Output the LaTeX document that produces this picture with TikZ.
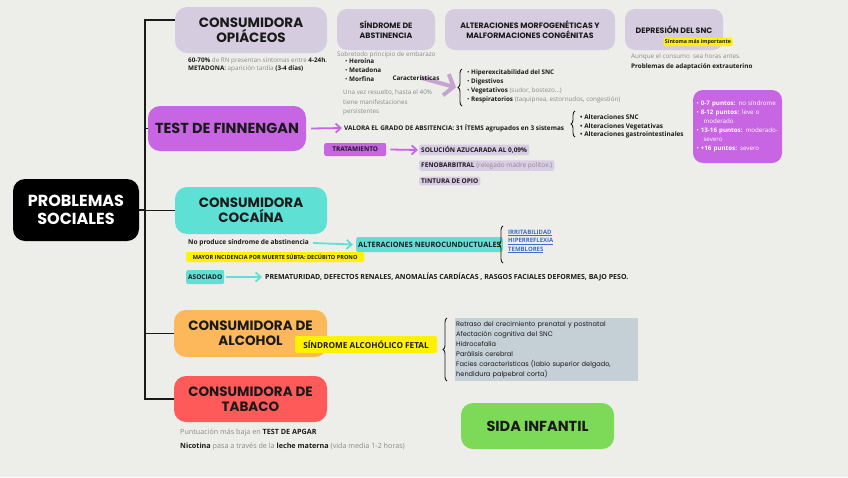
\documentclass[tikz,border=0pt]{standalone}
\usepackage{fontspec}
\setmainfont{Open Sans}
\newfontfamily\headfont{Poppins}
\usetikzlibrary{arrows.meta,positioning,decorations.pathreplacing,calc}
\definecolor{paper}{HTML}{EDEDEA}
\definecolor{opi}{HTML}{D6CCE0}
\definecolor{tagl}{HTML}{D9CDE4}
\definecolor{fin}{HTML}{C765E3}
\definecolor{coc}{HTML}{5EE0D5}
\definecolor{alc}{HTML}{FDB85C}
\definecolor{tab}{HTML}{FF5A5A}
\definecolor{sida}{HTML}{7DDA58}
\definecolor{hl}{HTML}{FFF200}
\definecolor{alist}{HTML}{C5CFD6}
\definecolor{linkblue}{HTML}{3C6BC9}
\definecolor{greytxt}{HTML}{8A8A8A}
\definecolor{ink}{HTML}{1A1A1A}
\pgfdeclarelayer{paperlayer}
\pgfdeclarelayer{under}
\pgfsetlayers{paperlayer,under,main}
\newcommand{\gry}[1]{{\color{greytxt}#1}}
\tikzset{
  bigbox/.style={rounded corners=12pt, align=center, text=ink,
    font=\headfont\bfseries\fontsize{13.5}{15}\selectfont, inner sep=2pt},
  smallbox/.style={rounded corners=10pt, fill=opi, align=center, text=ink,
    font=\headfont\bfseries\fontsize{7.8}{10.5}\selectfont, minimum height=41pt},
  tagbox/.style={rounded corners=2pt, inner sep=2pt, text=ink,
    font=\bfseries\fontsize{6.5}{7.5}\selectfont, anchor=west},
  note/.style={inner sep=0pt, align=left, text=ink, font=\fontsize{6.3}{9}\selectfont},
  trunk/.style={line width=1.6pt, ink},
  curly/.style={decorate, decoration={brace, amplitude=4pt}, line width=0.9pt, ink},
  barb/.style={-{Straight Barb[length=5pt,width=9pt]}, line width=1.8pt},
}
\begin{document}
\begin{tikzpicture}[x=1pt,y=-1pt]
\useasboundingbox (0,0) rectangle (848,477);
\begin{pgfonlayer}{paperlayer}
  \fill[paper] (0,0) rectangle (848,477);
\end{pgfonlayer}

% root and main branches
\node[bigbox, fill=black, text=white, minimum width=126pt, minimum height=62pt,
  font=\headfont\bfseries\fontsize{16}{18.5}\selectfont] (root) at (76,210) {PROBLEMAS\\SOCIALES};
\node[bigbox, fill=opi, minimum width=152pt, minimum height=46pt] (opi) at (251,30) {CONSUMIDORA\\OPIÁCEOS};
\node[bigbox, fill=fin, minimum width=158pt, minimum height=45pt,
  font=\headfont\bfseries\fontsize{14.5}{16}\selectfont] (fin) at (227,128.5) {TEST DE FINNENGAN};
\node[bigbox, fill=coc, minimum width=152pt, minimum height=47pt] (coc) at (251,210.5) {CONSUMIDORA\\COCAÍNA};
\node[bigbox, fill=alc, minimum width=153pt, minimum height=47pt] (alc) at (250.5,333.5) {CONSUMIDORA DE\\ALCOHOL};
\node[bigbox, fill=tab, minimum width=153pt, minimum height=46pt] (tab) at (250.5,399) {CONSUMIDORA DE\\TABACO};
\node[bigbox, fill=sida, minimum width=153pt, minimum height=46pt,
  font=\headfont\bfseries\fontsize{14.5}{16}\selectfont] (sida) at (537.5,426) {SIDA INFANTIL};

% trunk
\draw[trunk] ([yshift=10pt]opi.west) -- ++(-30,0) coordinate (ttop) |- (tab.west);
\draw[trunk] (root.east) -- (root.east -| ttop);
\draw[trunk] (fin.west -| ttop) -- (fin.west);
\draw[trunk] (coc.west -| ttop) -- (coc.west);
\draw[trunk] (alc.west -| ttop) -- (alc.west);

% opiaceos
\node[note, anchor=north west] (rn) at (188,57.5)
  {\textbf{60-70\%} \gry{de RN presentan síntomas entre} \textbf{4-24h}.\\[-1pt]
   \textbf{METADONA}: \gry{aparición tardía} \textbf{(3-4 días)}};
\node[smallbox, minimum width=98pt] (abst) at (386,29.5) {SÍNDROME DE\\ABSTINENCIA};
\node[smallbox, minimum width=170pt] (morf) at (530,29.5) {ALTERACIONES MORFOGENÉTICAS Y\\MALFORMACIONES CONGÉNITAS};
\node[smallbox, minimum width=98pt] (dep) at (674,29.5) {DEPRESIÓN DEL SNC};
\node[tagbox, anchor=center, fill=hl, inner sep=1.5pt, font=\bfseries\fontsize{5.3}{6}\selectfont] (sint) at (698,42) {Síntoma más importante};
\node[note, anchor=north west] (aunque) at (631,54)
  {\gry{Aunque el consumo\ \ sea horas antes.}\\[1pt]\textbf{Problemas de adaptación extrauterino}};

\node[note, anchor=west] (sobre) at (337,55) {\gry{Sobretodo principio de embarazo}};
\node[note, anchor=north west] (drugs) at (345,58) {•\ \textbf{Heroína}\\•\ \textbf{Metadona}\\•\ \textbf{Morfina}};
\node[note, anchor=north west] (persist) at (343,90)
  {\gry{Una vez resuelto, hasta el 40\%}\\[0.5pt]\gry{tiene manifestaciones}\\[0.5pt]\gry{persistentes}};
\node[note, font=\bfseries\fontsize{6.3}{8}\selectfont] (caract) at (416,78) {Características};
\coordinate (b1top) at (462,69);
\coordinate (b1bot) at (462,106);
\draw[curly] (b1bot) -- (b1top);
\begin{pgfonlayer}{under}
  \draw[tagl!80!violet, line width=4pt, -{Straight Barb[length=8pt,width=22pt]}]
    ([xshift=-18pt]caract.east) -- ([xshift=-6pt]$(b1top)!0.5!(b1bot)$);
\end{pgfonlayer}
\node[note, anchor=north west] (sint1) at (467,69.5)
  {•\ \textbf{Hiperexcitabilidad del SNC}\\
   •\ \textbf{Digestivos}\\
   •\ \textbf{Vegetativos} \gry{(sudor, bostezo...)}\\
   •\ \textbf{Respiratorios} \gry{(taquipnea, estornudos, congestión)}};

% finnegan
\node[note, anchor=west, font=\bfseries\fontsize{6.4}{8}\selectfont] (valora) at (344,128)
  {VALORA EL GRADO DE ABSITENCIA: 31 ÍTEMS agrupados en 3 sistemas};
\draw[barb, fin] ([xshift=5pt]fin.east) -- ([xshift=-2pt]valora.west);
\coordinate (b2top) at (575,111);
\coordinate (b2bot) at (575,137);
\draw[curly] (b2bot) -- (b2top);
\node[note, anchor=north west, font=\bfseries\fontsize{6.4}{8.6}\selectfont] (sist) at (580,114.5)
  {•\ Alteraciones SNC\\•\ Alteraciones Vegetativas\\•\ Alteraciones gastrointestinales};
\node[fill=fin, rounded corners=10pt, minimum width=89pt, minimum height=73pt,
  text width=82pt, align=left, text=white, inner sep=3pt,
  font=\fontsize{6.2}{9}\selectfont] (scale) at (737.5,126.5)
  {•\ \textbf{0-7 puntos:} no síndrome\\
   •\ \textbf{8-12 puntos:} leve o\\\hspace*{7pt}moderado\\
   •\ \textbf{13-16 puntos:} moderado-\\\hspace*{7pt}severo\\
   •\ \textbf{+16 puntos:} severo};
\node[tagbox, fill=fin, minimum width=62pt, minimum height=13pt] (trat) at (324,149.5) {TRATAMIENTO};
\node[tagbox, fill=tagl] (sol) at (419,150) {SOLUCIÓN AZUCARADA AL 0,09\%};
\node[tagbox, fill=tagl] (feno) at (419,165.5) {FENOBARBITRAL \gry{\mdseries(relegado madre politox.)}};
\node[tagbox, fill=tagl] (tint) at (419,181) {TINTURA DE OPIO};
\draw[barb, fin] ([xshift=4pt]trat.east) -- ([xshift=-1pt]sol.west);

% cocaina
\node[note, anchor=west, font=\bfseries\fontsize{6.6}{8}\selectfont] (noprod) at (188,243) {No produce síndrome de abstinencia};
\node[tagbox, fill=coc, minimum height=15pt, font=\bfseries\fontsize{7.4}{8}\selectfont] (neuro) at (356,244.5) {ALTERACIONES NEUROCUNDUCTUALES};
\draw[barb, coc] ([xshift=4pt]noprod.east) -- ([xshift=-3pt]neuro.west);
\coordinate (b3top) at (503,226);
\coordinate (b3bot) at (503,263);
\draw[curly] (b3bot) -- (b3top);
\node[note, anchor=north west, text=linkblue, font=\bfseries\fontsize{6}{8.5}\selectfont] (links) at (508,229.5)
  {\underline{IRRITABILIDAD}\\\underline{HIPERREFLEXIA}\\\underline{TEMBLORES}};
\node[tagbox, fill=hl, minimum width=178pt, minimum height=10pt, inner sep=1pt,
  font=\bfseries\fontsize{5.6}{6}\selectfont] (mayor) at (186,257) {MAYOR INCIDENCIA POR MUERTE SÚBTA: DECÚBITO PRONO};
\node[tagbox, fill=coc, minimum height=14pt] (asoc) at (186,277) {ASOCIADO};
\node[note, anchor=west, font=\bfseries\fontsize{7}{8}\selectfont] (asoclist) at (265,277)
  {PREMATURIDAD, DEFECTOS RENALES, ANOMALÍAS CARDÍACAS , RASGOS FACIALES DEFORMES, BAJO PESO.};
\draw[barb, coc] ([xshift=2pt]asoc.east) -- ([xshift=-3pt]asoclist.west);

% alcohol
\node[tagbox, anchor=center, fill=hl, minimum width=142pt, minimum height=17pt,
  font=\bfseries\fontsize{8.2}{9}\selectfont] (saf) at (366,344.5) {SÍNDROME ALCOHÓLICO FETAL};
\coordinate (b4top) at (447,318);
\coordinate (b4bot) at (447,381);
\draw[curly] (b4bot) -- (b4top);
\node[fill=alist, anchor=north west, minimum width=183pt, minimum height=63pt,
  text width=181pt, align=left, inner sep=1pt, text=ink,
  font=\headfont\fontsize{6.6}{10}\selectfont] (alist) at (455,318)
  {Retraso del crecimiento prenatal y postnatal\\
   Afectación cognitiva del SNC\\
   Hidrocefalia\\
   Parálisis cerebral\\
   Facies características (labio superior delgado,\\
   hendidura palpebral corta)};

% tabaco
\node[note, anchor=west, font=\fontsize{7.2}{9}\selectfont] (apgar) at (180,433) {\gry{Puntuación más baja en} \textbf{TEST DE APGAR}};
\node[note, anchor=west, font=\fontsize{7.2}{9}\selectfont] (nicot) at (180,447)
  {\textbf{Nicotina} \gry{pasa a través de la} \textbf{leche materna} \gry{(vida media 1-2 horas)}};
\end{tikzpicture}
\end{document}
